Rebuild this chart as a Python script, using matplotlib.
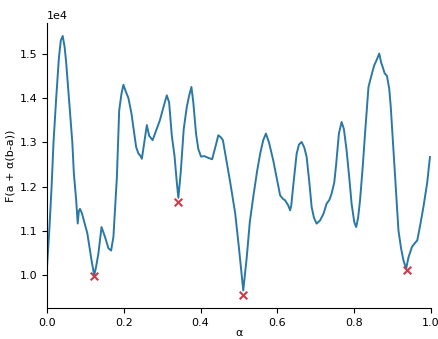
import numpy as np
import matplotlib.pyplot as plt

plt.rcParams["font.size"] = 8

# 曲线数据 (α, F)
alpha = [0.000, 0.006, 0.012, 0.017, 0.024, 0.031, 0.036, 0.041, 0.046, 0.050,
         0.057, 0.066, 0.070, 0.076, 0.080, 0.083, 0.086, 0.091, 0.096, 0.105,
         0.116, 0.123, 0.128, 0.134, 0.142, 0.151, 0.160, 0.167, 0.173, 0.177,
         0.182, 0.188, 0.194, 0.199, 0.205, 0.212, 0.220, 0.232, 0.238, 0.243,
         0.247, 0.255, 0.260, 0.266, 0.275, 0.294, 0.305, 0.312, 0.318, 0.325,
         0.332, 0.338, 0.342, 0.348, 0.356, 0.364, 0.370, 0.376, 0.381, 0.388,
         0.394, 0.401, 0.410, 0.420, 0.430, 0.440, 0.446, 0.452, 0.458, 0.467,
         0.477, 0.490, 0.500, 0.511, 0.520, 0.528, 0.537, 0.547, 0.555, 0.563,
         0.570, 0.578, 0.589, 0.598, 0.607, 0.615, 0.620, 0.628, 0.633, 0.636,
         0.642, 0.650, 0.656, 0.663, 0.670, 0.676, 0.683, 0.689, 0.695, 0.702,
         0.711, 0.720, 0.728, 0.735, 0.741, 0.748, 0.753, 0.760, 0.767, 0.773,
         0.780, 0.787, 0.793, 0.800, 0.805, 0.810, 0.815, 0.822, 0.828, 0.837,
         0.846, 0.852, 0.858, 0.865, 0.870, 0.874, 0.879, 0.885, 0.891, 0.895,
         0.900, 0.906, 0.915, 0.922, 0.928, 0.935, 0.941, 0.950, 0.957, 0.964,
         0.972, 0.980, 0.990, 0.997]
F = [10180, 11000, 12000, 13000, 14000, 14900, 15300, 15400, 15150, 14800,
     14000, 13000, 12300, 11700, 11170, 11450, 11500, 11400, 11240, 10950,
     10340, 10000, 10200, 10500, 11090, 10870, 10610, 10560, 10870, 11470,
     12220, 13720, 14100, 14300, 14150, 14000, 13650, 12900, 12750, 12700,
     12630, 13100, 13390, 13150, 13050, 13500, 13850, 14060, 13900, 13150,
     12700, 12100, 11750, 12300, 13300, 13800, 14050, 14250, 13900, 13200,
     12850, 12680, 12690, 12650, 12620, 12950, 13160, 13120, 13050, 12600,
     12100, 11400, 10600, 9660, 10400, 11200, 11767, 12350, 12746, 13050,
     13198, 13000, 12595, 12200, 11805, 11720, 11693, 11580, 11467, 11580,
     12100, 12746, 12950, 13010, 12880, 12670, 12100, 11542, 11300, 11167,
     11240, 11392, 11618, 11700, 11844, 12100, 12521, 13200, 13460, 13300,
     12820, 12200, 11618, 11200, 11090, 11300, 11693, 12450, 13198, 14250,
     14553, 14740, 14853, 15004, 14800, 14700, 14560, 14500, 14210, 13800,
     13100, 12295, 11016, 10600, 10339, 10150, 10400, 10640, 10720, 10790,
     11150, 11542, 12100, 12670]

# 局部极小值
min_alpha = [0.123, 0.342, 0.511, 0.937]
min_F = [9990, 11660, 9560, 10120]

fig = plt.figure(figsize=(4.39, 3.39), dpi=100)
ax = fig.add_axes([0.107, 0.092, 0.875, 0.84])
ax.plot(alpha, F, color='#2a78a6', linewidth=1.4)
ax.scatter(min_alpha, min_F, marker='x', color='#d03a48', s=30, zorder=3)

ax.set_xlim(0, 1)
ax.spines['top'].set_visible(False)
ax.spines['right'].set_visible(False)
ax.ticklabel_format(axis='y', style='sci', scilimits=(0, 0))
ax.set_xlabel('α', labelpad=0)
ax.set_ylabel('F(a + α(b-a))', labelpad=3)

fig.savefig('out.png', dpi=100)
